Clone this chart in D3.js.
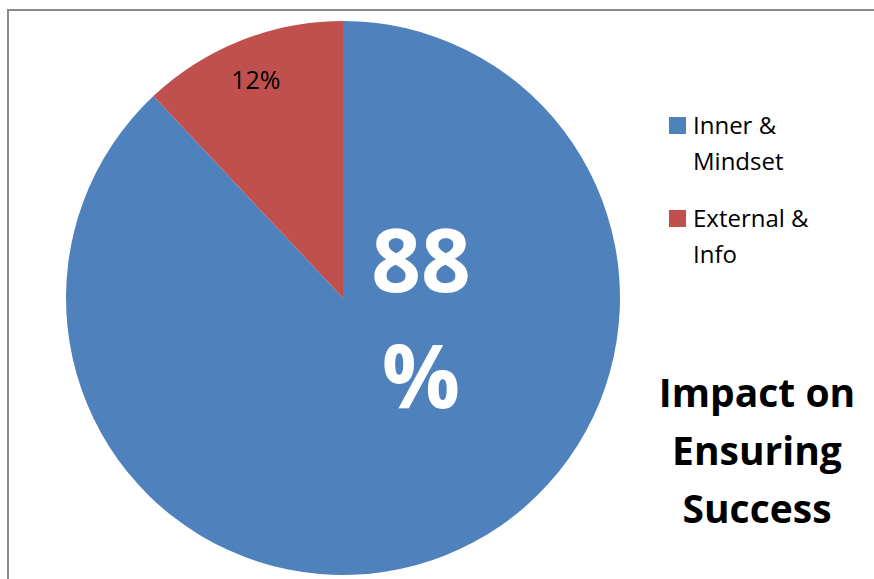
<!DOCTYPE html>
<html><head><meta charset="utf-8">
<script src="https://cdn.jsdelivr.net/npm/d3@7/dist/d3.min.js"></script>
<style>html,body{margin:0;padding:0;background:#fff;overflow:hidden}</style>
</head><body>
<svg id="c" width="874" height="579"></svg>
<script>
const categories = ["Inner & Mindset", "External & Info"];
const legendLines = [["Inner &", "Mindset"], ["External &", "Info"]];
const values = [88, 12];
const colors = ["#4F81BD", "#C0504D"];
const titleLines = ["Impact on", "Ensuring", "Success"];
const sliceLabels = [["88", "%"], ["12%"]];

const svg = d3.select("#c");
const font = "'Open Sans', 'Liberation Sans', sans-serif";

svg.append("rect").attr("x", 8).attr("y", 10).attr("width", 880).attr("height", 600)
  .attr("fill", "#fff").attr("stroke", "#8a8a8a").attr("stroke-width", 2);

const cx = 343, cy = 298, R = 277;
const pie = d3.pie().sort(null).value(d => d)(values);
const arc = d3.arc().innerRadius(0).outerRadius(R);
const g = svg.append("g").attr("transform", `translate(${cx},${cy})`);
g.selectAll("path").data(pie).join("path")
  .attr("d", arc).attr("fill", (d, i) => colors[i]);

// red label at centroid-ish
const labArc = d3.arc().innerRadius(R * 0.845).outerRadius(R * 0.845);
const c1 = labArc.centroid(pie[1]);
g.append("text").attr("x", c1[0] - 1).attr("y", c1[1] + 9)
  .attr("text-anchor", "middle").attr("font-family", font).attr("font-size", 25)
  .attr("fill", "#000").text(sliceLabels[1][0]);

// big blue label
const bl = g.append("text").attr("text-anchor", "middle").attr("font-family", font)
  .attr("font-size", 87).attr("font-weight", "bold").attr("fill", "#fff");
sliceLabels[0].forEach((t, i) => {
  bl.append("tspan").attr("x", 78).attr("y", -6 + i * 116).text(t);
});

// legend
const lg = svg.append("g");
legendLines.forEach((lines, i) => {
  const y0 = 117 + i * 93;
  lg.append("rect").attr("x", 669).attr("y", y0).attr("width", 17).attr("height", 17).attr("fill", colors[i]);
  lines.forEach((t, j) => {
    lg.append("text").attr("x", 693).attr("y", y0 + 17 + j * 36)
      .attr("font-family", font).attr("font-size", 24).attr("fill", "#000").text(t);
  });
});

// title
titleLines.forEach((t, i) => {
  svg.append("text").attr("x", 757).attr("y", 407 + i * 58).attr("text-anchor", "middle")
    .attr("font-family", font).attr("font-size", 39).attr("font-weight", "bold")
    .attr("fill", "#000").text(t);
});
</script>
</body></html>
